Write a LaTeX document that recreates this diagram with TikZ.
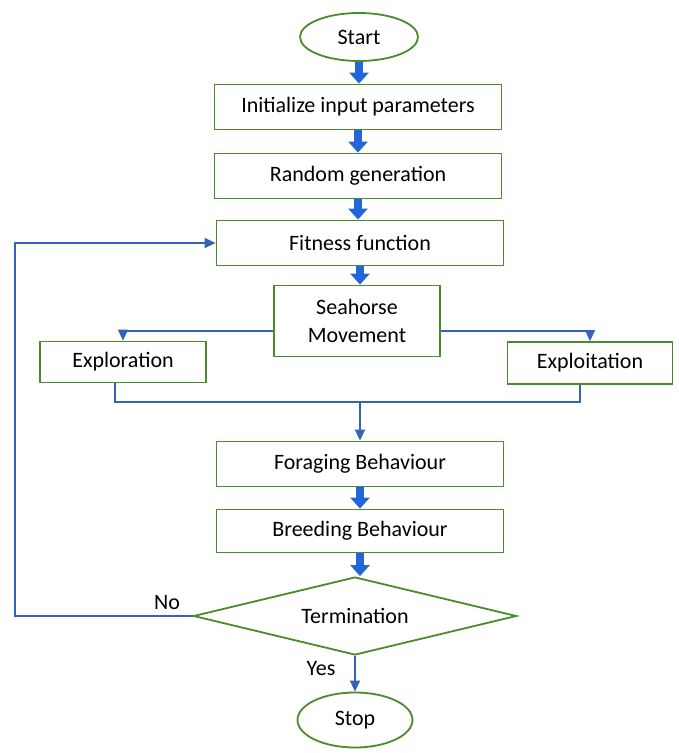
\documentclass[tikz,border=0pt]{standalone}
\usepackage{fontspec}
\setmainfont{Carlito}
\usetikzlibrary{arrows.meta,positioning,calc,shapes.geometric}
\definecolor{leaf}{HTML}{4A8B2C}
\definecolor{wire}{HTML}{3463B8}
\definecolor{fat}{HTML}{2366D8}
\tikzset{box/.style={draw=leaf,line width=1.8pt,fill=white,align=center,font=\fontsize{22}{28}\selectfont,inner sep=0pt,minimum width=287pt,minimum height=45pt},
  terminal/.style={box,ellipse,minimum width=118pt,minimum height=48pt},
  decide/.style={box,diamond,aspect=4.14,minimum width=323pt,minimum height=78pt},
  bigflow/.style={-{Triangle[length=11pt,width=19pt]},line width=8pt,draw=fat},
  flow/.style={-{Triangle[length=11pt,width=10pt]},line width=1.3pt,draw=wire},
  link/.style={line width=1.3pt,draw=wire},
  tag/.style={font=\fontsize{22}{24}\selectfont}}
\begin{document}
\begin{tikzpicture}[x=1pt,y=-1pt]
\useasboundingbox (0,0) rectangle (678,753);
\node[terminal] (start) at (359,37) {Start};
\node[box] (init) at (358,107) {Initialize input parameters};
\node[box] (rand) at (358,176) {Random generation};
\node[box] (fit) at (360,243) {Fitness function};
\node[box,minimum width=166pt,minimum height=71pt] (sea) at (357,321) {Seahorse\\Movement};
\node[box,minimum width=166pt,minimum height=41pt] (explor) at (123,362) {Exploration};
\node[box,minimum width=165pt,minimum height=42pt] (exploit) at (590,363) {Exploitation};
\node[box] (forage) at (360,464) {Foraging Behaviour};
\node[box,minimum height=43pt] (breed) at (360,531) {Breeding Behaviour};
\node[decide] (termq) at (355,616) {Termination};
\node[terminal,minimum width=115pt,minimum height=55pt] (stop) at (355,720) {Stop};
\foreach \a/\b in {start/init,init/rand,rand/fit,fit/sea,forage/breed,breed/termq}
  \draw[bigflow] (\a.south) -- (\a.south |- \b.north);
\draw[flow] ([yshift=-10pt]sea.west) -| (explor.north);
\draw[flow] ([yshift=-10pt]sea.east) -| (exploit.north);
\coordinate (merge) at (360,402);
\coordinate (back) at (15,616);
\draw[link] ([xshift=-8pt]explor.south) |- (merge) -| ([xshift=-10pt]exploit.south);
\draw[flow] (merge) -- (forage.north);
\draw[flow] (termq.south) -- (stop.north);
\draw[flow] (termq.west) -- (back) |- (fit.west);
\node[tag] (no) at (167,603) {No};
\node[tag] (yes) at (321,669) {Yes};
\end{tikzpicture}
\end{document}
